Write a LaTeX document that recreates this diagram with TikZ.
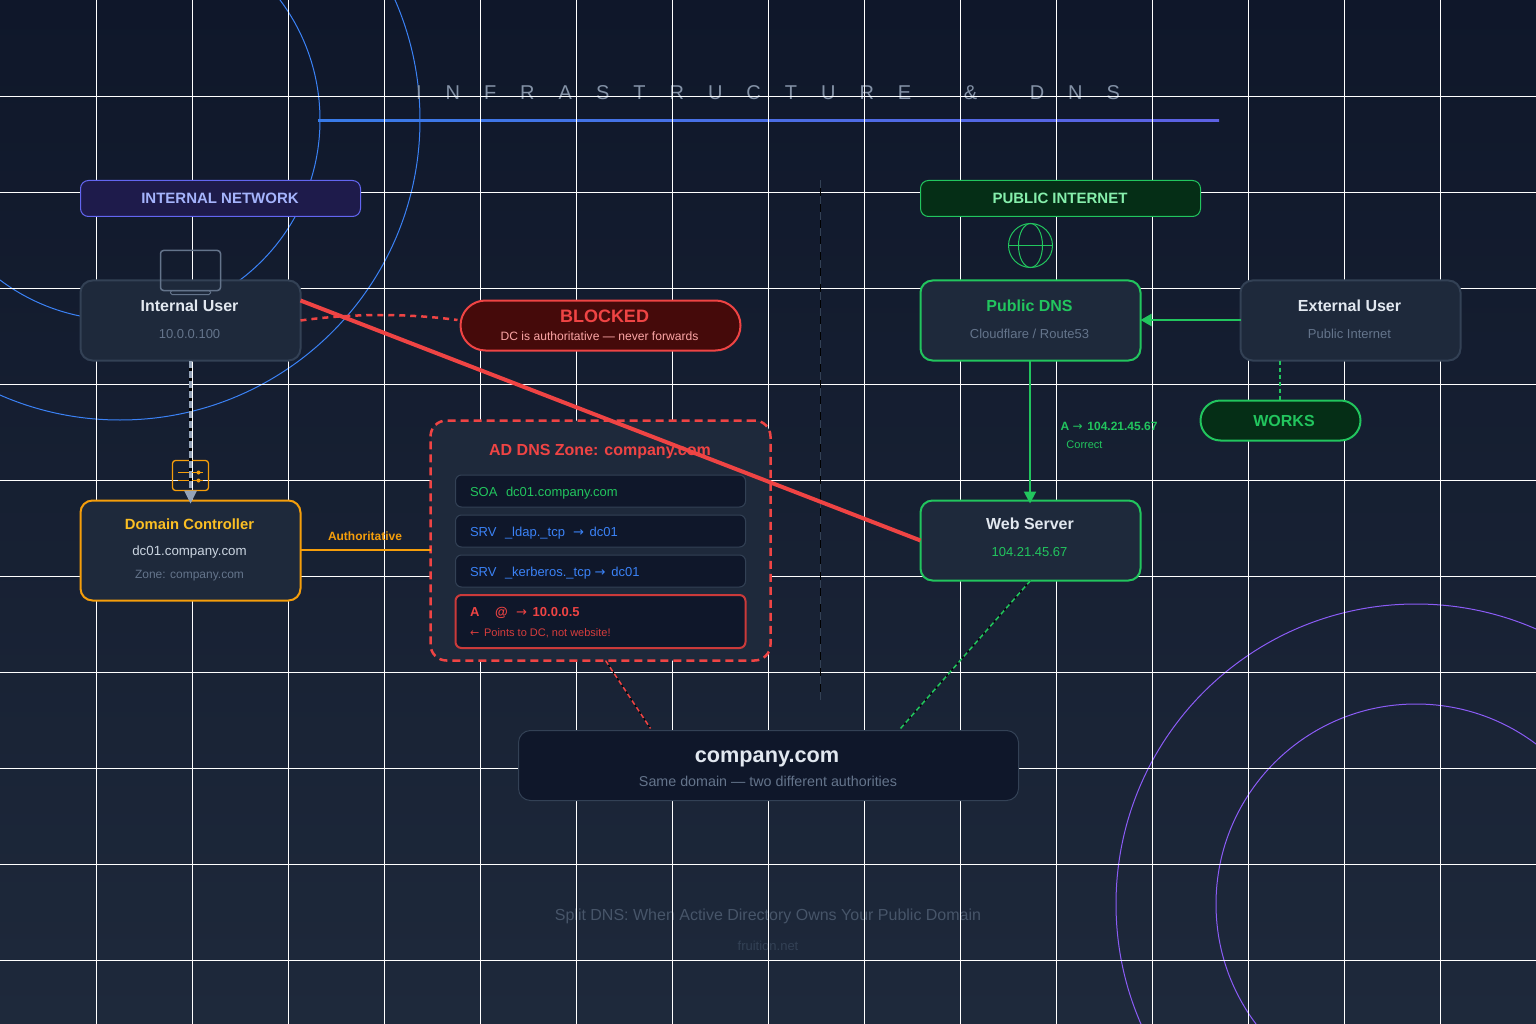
\documentclass[tikz,border=0pt]{standalone}
\usepackage{fontspec}
\usetikzlibrary{arrows.meta,calc}
\setmainfont{Liberation Sans}
\newfontfamily\titlefont[LetterSpace=120]{Liberation Sans}
\newfontfamily\arrowfont{DejaVu Sans}
\definecolor{slateA}{HTML}{0F172A}
\definecolor{slateB}{HTML}{1E293B}
\definecolor{slateC}{HTML}{334155}
\definecolor{slateD}{HTML}{64748B}
\definecolor{slateE}{HTML}{94A3B8}
\definecolor{slateF}{HTML}{CBD5E1}
\definecolor{slateG}{HTML}{E2E8F0}
\definecolor{slateH}{HTML}{475569}
\definecolor{blueL}{HTML}{3B82F6}
\definecolor{indigoL}{HTML}{6366F1}
\definecolor{violetL}{HTML}{8B5CF6}
\definecolor{greenL}{HTML}{22C55E}
\definecolor{redL}{HTML}{EF4444}
\definecolor{amberL}{HTML}{F59E0B}
\definecolor{amberT}{HTML}{FBBF24}
\definecolor{lilacT}{HTML}{A5B4FC}
\definecolor{mintT}{HTML}{86EFAC}
\definecolor{pinkT}{HTML}{FCA5A5}
\definecolor{navyF}{HTML}{1E1B4B}
\definecolor{forestF}{HTML}{052E16}
\definecolor{maroonF}{HTML}{450A0A}
\tikzset{
  fs/.style={font=\fontsize{#1}{#1}\selectfont},
  fsb/.style={font=\fontsize{#1}{#1}\selectfont\bfseries},
  lbl/.style={inner sep=0pt,outer sep=0pt,anchor=base},
  lblw/.style={inner sep=0pt,outer sep=0pt,anchor=base west},
  panel/.style={rectangle,inner sep=0pt,outer sep=0pt,rounded corners=12pt,fill=slateB,draw=slateC,line width=2pt},
  header/.style={rectangle,inner sep=0pt,outer sep=0pt,rounded corners=8pt,line width=1pt,minimum width=280pt,minimum height=36pt},
  pill/.style={rectangle,inner sep=0pt,outer sep=0pt,line width=2pt},
  rec/.style={rectangle,inner sep=0pt,outer sep=0pt,rounded corners=6pt,fill=slateA,draw=slateC,line width=1pt,minimum width=290pt,minimum height=32pt},
  tipT/.style={-{Triangle[width=12pt,length=#1]}},
}
\begin{document}
\begin{tikzpicture}[x=1pt,y=-1pt]
\useasboundingbox (0,0) rectangle (1536,1024);
\shade[top color=slateA,bottom color=slateB] (0,0) rectangle (1536,1024);
% decorative circles
\draw[blueL,line width=1pt] (120,120) circle[radius=200];
\draw[blueL,line width=1pt] (120,120) circle[radius=300];
\begin{scope}
\clip (0,0) rectangle (1536,1024);
\draw[violetL,line width=1pt] (1416,904) circle[radius=200];
\draw[violetL,line width=1pt] (1416,904) circle[radius=300];
\end{scope}
% title and footer lie under the grid
\node[lbl,text=slateE!88!slateA] (title) at (768,100) {\fontsize{20}{20}\titlefont INFRASTRUCTURE\hspace{23pt} \&\hspace{23pt} DNS};
\shade[left color=blueL!93!slateA,right color=indigoL!93!slateA] (318,119.5) rectangle (1219,121.5);
\node[lbl,fs=16,text=slateH] (foot) at (768,920) {Split DNS: When Active Directory Owns Your Public Domain};
\node[lbl,fs=13,text=slateC] (site) at (768,950) {fruition.net};
% grid
\foreach \k in {1,...,15} \draw[white,line width=1pt] ({96*\k+0.5},0) -- ({96*\k+0.5},1024);
\foreach \k in {1,...,10} \draw[white,line width=1pt] (0,{96*\k+0.5}) -- (1536,{96*\k+0.5});
% divider
\coordinate (divT) at (820.5,180);
\coordinate (divB) at (820.5,700);
\draw[black,line width=1pt] (divT) -- (divB);
\draw[slateC,line width=1pt,dash pattern=on 8pt off 8pt] (divT) -- (divB);
% headers
\node[header,fill=navyF,draw=indigoL] (hint) at (220.5,198.5) {};
\node[lbl,fsb=15,text=lilacT] (hintt) at (220,204) {INTERNAL NETWORK};
\node[header,fill=forestF,draw=greenL] (hpub) at (1060.5,198.5) {};
\node[lbl,fsb=15,text=mintT] (hpubt) at (1060,204) {PUBLIC INTERNET};
% panels
\node[panel,minimum width=220pt,minimum height=80pt] (iu) at (190.5,320.5) {};
\node[panel,minimum width=220pt,minimum height=80pt,draw=greenL] (pd) at (1030.5,320.5) {};
\node[panel,minimum width=220pt,minimum height=80pt] (eu) at (1350.5,320.5) {};
\node[panel,minimum width=220pt,minimum height=100pt,draw=amberL] (dc) at (190.5,550.5) {};
\node[panel,minimum width=220pt,minimum height=80pt,draw=greenL] (ws) at (1030.5,540.5) {};
% panel labels
\node[lbl,fsb=16,text=slateG] (iut) at (189.5,312) {Internal User};
\node[lbl,fs=13,text=slateD] (ius) at (189.5,338) {10.0.0.100};
\node[lbl,fsb=16,text=greenL] (pdt) at (1029.5,312) {Public DNS};
\node[lbl,fs=13,text=slateD] (pds) at (1029.5,338) {Cloudflare / Route53};
\node[lbl,fsb=16,text=slateG] (eut) at (1349.5,312) {External User};
\node[lbl,fs=13,text=slateD] (eus) at (1349.5,338) {Public Internet};
\node[lbl,fsb=14.8,text=amberT] (dct) at (189.5,529) {Domain Controller};
\node[lbl,fs=13.3,text=slateF] (dcs) at (189.5,555) {dc01.company.com};
\node[lbl,fs=12,text=slateD] (dcz) at (189.5,578) {Zone: company.com};
\node[lbl,fsb=16,text=slateG] (wst) at (1030,529) {Web Server};
\node[lbl,fs=13,text=greenL] (wss) at (1029.5,556) {104.21.45.67};
% icons
\draw[slateD,line width=1.5pt,rounded corners=3pt] (160.5,250.5) rectangle (220.5,290.5);
\draw[slateD,line width=1pt,rounded corners=1.5pt] (170.5,290.5) rectangle (210.5,294.5);
\draw[greenL,line width=1pt] (1030.5,245.5) circle[radius=22];
\draw[greenL,line width=1pt] (1030.5,245.5) ellipse[x radius=12,y radius=22];
\draw[greenL,line width=1pt] (1008.5,245.5) -- (1052.5,245.5);
\draw[amberL,line width=1.3pt,rounded corners=3pt] (172.5,460.5) rectangle (208.5,490.5);
\draw[amberL,line width=1pt] (178,472.5) -- (203,472.5);
\draw[amberL,line width=1pt] (178,480.5) -- (203,480.5);
\fill[amberL] (198.5,472.5) circle[radius=2];
\fill[amberL] (198.5,480.5) circle[radius=2];
% pills
\node[pill,fill=maroonF,draw=redL,minimum width=280pt,minimum height=50pt,rounded corners=25pt] (blk) at (600.5,325.5) {};
\node[lbl,fsb=18,text=redL] (blkt) at (604.5,322) {BLOCKED};
\node[lbl,fs=12.1,text=pinkT] (blks) at (599.5,340) {DC is authoritative — never forwards};
\node[pill,fill=forestF,draw=greenL,minimum width=160pt,minimum height=40pt,rounded corners=20pt] (wk) at (1280.5,420.5) {};
\node[lbl,fsb=16,text=greenL] (wkt) at (1284,426) {WORKS};
% zone
\node[rectangle,inner sep=0pt,outer sep=0pt,rounded corners=16pt,fill=slateB,draw=redL,line width=2.5pt,dash pattern=on 8pt off 5pt,minimum width=340pt,minimum height=240pt] (zn) at (600.5,540.5) {};
\node[lbl,fsb=16,text=redL] (znt) at (600,455) {AD DNS Zone: company.com};
\node[rec] (r1) at (600.5,491) {};
\node[rec] (r2) at (600.5,531) {};
\node[rec] (r3) at (600.5,571) {};
\node[rec,draw=redL!85!black,line width=2pt,minimum height=53pt] (r4) at (600.5,621.5) {};
\node[lblw,fs=13,text=greenL] (r1a) at (470,496) {SOA};
\node[lblw,fs=13,text=greenL] (r1b) at (506,496) {dc01.company.com};
\node[lblw,fs=13,text=blueL] (r2a) at (470,536) {SRV};
\node[lblw,fs=13,text=blueL] (r2b) at (505,536) {\_ldap.\_tcp};
\node[lblw,fs=13,text=blueL] (r2c) at (573,536) {{\arrowfont →}\hspace{2.2pt} dc01};
\node[lblw,fs=13,text=blueL] (r3a) at (470,576) {SRV};
\node[lblw,fs=13,text=blueL] (r3b) at (505,576) {\_kerberos.\_tcp {\arrowfont →}\hspace{2.2pt} dc01};
\node[lblw,fsb=13,text=redL] (r4a) at (470,616) {A};
\node[lblw,fsb=13,text=redL] (r4b) at (495,616) {@};
\node[lblw,fsb=13,text=redL] (r4c) at (516,616) {{\arrowfont\mdseries →}\hspace{2.2pt} 10.0.0.5};
\node[lblw,fs=11,text=redL!90!black] (r4d) at (470,636) {{\arrowfont ←}\hspace{1.8pt} Points to DC, not website!};
% company box
\node[rectangle,inner sep=0pt,outer sep=0pt,rounded corners=12pt,fill=slateA,draw=slateC,line width=1pt,minimum width=500pt,minimum height=70pt] (co) at (768.5,765.5) {};
\node[lbl,fsb=21.7,text=slateG] (cot) at (767,762) {company.com};
\node[lbl,fs=14.3,text=slateD] (cos) at (768,786) {Same domain — two different authorities};
% connectors
\draw[black,line width=3pt] (iu.south) -- ([yshift=13pt]dc.north);
\draw[slateE,line width=3pt,dash pattern=on 7pt off 3pt] (iu.south) -- ([yshift=13pt]dc.north);
\fill[slateE] ([yshift=-3pt]dc.north) -- ++(-6.5,-13) -- ++(13,0) -- cycle;
\draw[greenL,line width=2pt,tipT=12pt,shorten >=-3pt] ([xshift=-.5pt]pd.south) -- ([xshift=-.5pt]ws.north);
\draw[greenL,line width=2pt,tipT=11pt] ([yshift=.5pt]eu.west) -- ([yshift=.5pt]pd.east);
\draw[greenL,line width=2pt,dash pattern=on 4pt off 3pt] ([xshift=-70.5pt]eu.south) -- ([xshift=-.5pt]wk.north);
\draw[amberL,line width=2pt] ([yshift=.5pt]dc.east) -- ([yshift=-9.5pt]zn.west);
\draw[redL,line width=2.5pt,dash pattern=on 6pt off 5pt] (iu.east) .. controls (353.3,313.3) and (406.7,313.3) .. ([xshift=-3pt,yshift=5.5pt]blk.west);
\draw[redL,line width=4pt] ([yshift=20pt]iu.east) -- (ws.west);
\draw[black,line width=1pt] ([xshift=5pt]zn.south) -- ([xshift=-118pt,yshift=2pt]co.north);
\draw[redL,line width=1.5pt,dash pattern=on 5pt off 3pt] ([xshift=5pt]zn.south) -- ([xshift=-118pt,yshift=2pt]co.north);
\draw[black,line width=1pt] (ws.south) -- ([xshift=132pt,yshift=2pt]co.north);
\draw[greenL,line width=1.5pt,dash pattern=on 5pt off 3pt] (ws.south) -- ([xshift=132pt,yshift=2pt]co.north);
% connector labels
\node[lbl,fsb=12,text=amberL] (auth) at (365,540) {Authoritative};
\node[lbl,fsb=12,text=greenL] (arec) at (1109,430) {A {\arrowfont\mdseries →}\hspace{1.5pt} 104.21.45.67};
\node[lbl,fs=11,text=greenL] (corr) at (1084.5,448) {Correct};
\end{tikzpicture}
\end{document}
